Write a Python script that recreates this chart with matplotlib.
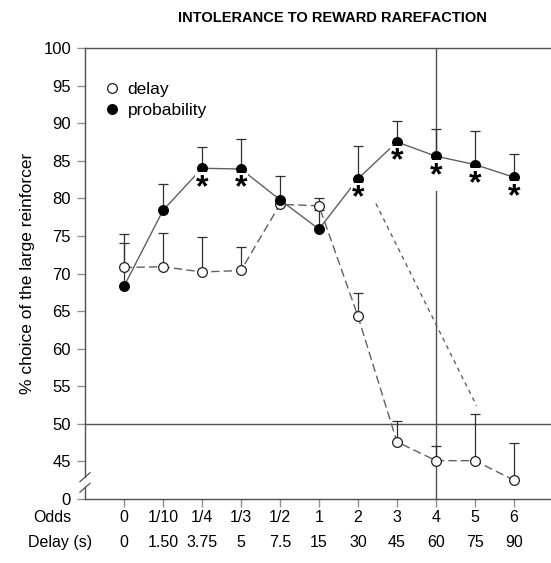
"""
Choice of the large reinforcer under delay and probability
"""
import matplotlib
matplotlib.use("Agg")
import matplotlib.pyplot as plt

plt.rcParams['font.family'] = ['Liberation Sans', 'DejaVu Sans']

# x categories
odds_labels = ['0', '1/10', '1/4', '1/3', '1/2', '1', '2', '3', '4', '5', '6']
delay_labels = ['0', '1.50', '3.75', '5', '7.5', '15', '30', '45', '60', '75', '90']
positions = list(range(len(odds_labels)))

# delay series (open circles)
delay_mean = [70.8, 70.9, 70.2, 70.4, 79.2, 79.0, 64.3, 47.6, 45.1, 45.1, 42.5]
delay_err = [4.4, 4.5, 4.7, 3.1, 0.6, 1.0, 3.1, 2.8, 1.9, 6.2, 4.9]

# probability series (filled circles)
prob_mean = [68.3, 78.4, 84.0, 83.9, 79.8, 75.9, 82.6, 87.5, 85.6, 84.5, 82.8]
prob_err = [5.8, 3.5, 2.8, 4.0, 3.2, 2.5, 4.4, 2.8, 3.6, 4.5, 3.1]

# significance stars (under the probability points)
star_positions = [2, 3, 6, 7, 8, 9, 10]

# y ticks: the "0" label sits on a broken axis one step below 45
ytick_pos = [40, 45, 50, 55, 60, 65, 70, 75, 80, 85, 90, 95, 100]
ytick_labels = ['0', '45', '50', '55', '60', '65', '70', '75', '80', '85', '90', '95', '100']

# short dotted guide line
guide_x = [6.46, 9.04]
guide_y = [79.3, 52.4]

fig = plt.figure(figsize=(5.51, 5.63), dpi=100)
ax = fig.add_axes([85 / 551, 1 - 499 / 563, 1 - 85 / 551, (499 - 48) / 563])

spine_col = '#505050'
line_col = '#606060'

# reference lines
ax.axhline(50, color=spine_col, lw=1.0, zorder=1)
ax.axvline(8, color=spine_col, lw=1.0, zorder=1)

# guide line
ax.plot(guide_x, guide_y, color=line_col, lw=1.0, ls=(0, (3, 3)), zorder=2)

# delay
ax.errorbar(positions, delay_mean, yerr=[[0] * len(delay_err), delay_err],
            fmt='none', ecolor='#303030', elinewidth=0.9, capsize=3.5,
            capthick=0.9, zorder=3)
ax.plot(positions, delay_mean, color=line_col, lw=1.0, ls=(0, (6, 3)),
        marker='o', ms=7, mfc='white', mec='#202020', mew=0.9,
        zorder=4, label='delay')

# probability
ax.errorbar(positions, prob_mean, yerr=[[0] * len(prob_err), prob_err],
            fmt='none', ecolor='#303030', elinewidth=0.9, capsize=3.5,
            capthick=0.9, zorder=3)
ax.plot(positions, prob_mean, color=line_col, lw=1.0, ls='-',
        marker='o', ms=7, mfc='black', mec='black', mew=0.9,
        zorder=5, label='probability')

# stars
for i in star_positions:
    ax.text(i, prob_mean[i] - 2.6, '*', ha='center', va='center',
            fontsize=23, fontweight='bold', zorder=6,
            bbox=dict(facecolor='white', edgecolor='none', pad=0.5))

# axes styling
ax.set_xlim(-1, 10.95)
ax.set_ylim(40, 100)
ax.set_yticks(ytick_pos)
ax.set_yticklabels(ytick_labels, fontsize=12)
ax.set_xticks(positions)
ax.set_xticklabels([])
ax.tick_params(axis='both', direction='out', length=6, width=1,
               color='#909090', pad=4)
ax.spines['right'].set_visible(False)
for s in ['left', 'top', 'bottom']:
    ax.spines[s].set_color(spine_col)
    ax.spines[s].set_linewidth(1.0)

# axis break marks
for dy in [-0.7, 0.7]:
    ax.plot([-1.13, -0.87], [42.2 + dy - 0.6, 42.2 + dy + 0.6],
            color=spine_col, lw=0.9, clip_on=False, zorder=7)
ax.plot([-1, -1], [41.8, 42.6], color='white', lw=2, clip_on=False, zorder=6)

# two rows of x labels
for i in positions:
    ax.annotate(odds_labels[i], xy=(i, 0), xycoords=('data', 'axes fraction'),
                xytext=(0, -13), textcoords='offset points',
                ha='center', va='center', fontsize=11.5)
    ax.annotate(delay_labels[i], xy=(i, 0), xycoords=('data', 'axes fraction'),
                xytext=(0, -31), textcoords='offset points',
                ha='center', va='center', fontsize=11.5)
fig.text(33 / 551, 1 - 517 / 563, 'Odds', ha='left', va='center', fontsize=11.5)
fig.text(28 / 551, 1 - 542 / 563, 'Delay (s)', ha='left', va='center', fontsize=11.5)

ax.set_ylabel('% choice of the large reinforcer', fontsize=12.5, labelpad=6)

leg = ax.legend(loc='upper left', bbox_to_anchor=(0.028, 0.94), frameon=False,
                fontsize=12.5, handlelength=0.8, handletextpad=0.5,
                labelspacing=0.35, borderaxespad=0)
for h in leg.legend_handles:
    h.set_linestyle('none')

fig.text(332 / 551, 1 - 18 / 563, 'INTOLERANCE TO REWARD RAREFACTION',
         ha='center', va='center', fontsize=10.5, fontweight='bold')

fig.savefig('out.png', dpi=100)
